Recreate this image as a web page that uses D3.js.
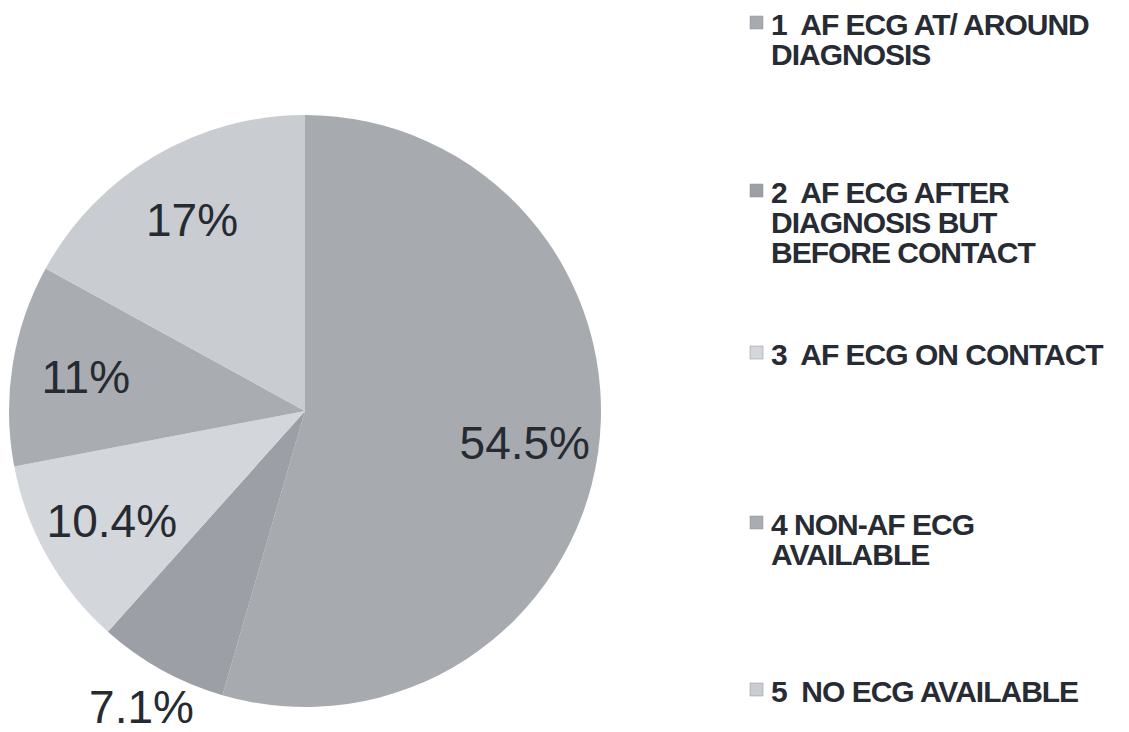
<!DOCTYPE html>
<html>
<head>
<meta charset="utf-8">
<script src="https://cdn.jsdelivr.net/npm/d3@7"></script>
<style>
  body { margin: 0; background: #fff; }
  svg { display: block; }
  .pct { font-family: "Liberation Sans", Arial, sans-serif; font-size: 46px; fill: #262a31; }
  .leg { font-family: "Liberation Sans", Arial, sans-serif; font-size: 30px; font-weight: bold; fill: #272b33; letter-spacing: -1px; white-space: pre; }
</style>
</head>
<body>
<div id="chart"></div>
<script>
/* ---- data ---- */
var categories = ["1", "2", "3", "4", "5"];
var values = [54.5, 7.1, 10.4, 11, 17];
var valueLabels = ["54.5%", "7.1%", "10.4%", "11%", "17%"];
var legendLines = [
	["1  AF ECG AT/ AROUND", "DIAGNOSIS"],
	["2  AF ECG AFTER", "DIAGNOSIS BUT", "BEFORE CONTACT"],
	["3  AF ECG ON CONTACT"],
	["4 NON-AF ECG", "AVAILABLE"],
	["5  NO ECG AVAILABLE"]
];
var sliceColors = ["#a7abb0", "#9c9fa5", "#d3d6da", "#a9acb1", "#c9ccd1"];

/* ---- layout ---- */
var width = 1129,
	height = 732,
	cx = 305,
	cy = 411,
	radius = 296;

var legendX = 750,
	legendTextX = 771,
	legendBaselines = [35, 203, 365, 535, 702],
	lineHeight = 30,
	swatch = 13;

var svg = d3.select("#chart").append("svg")
	.attr("width", width)
	.attr("height", height);

var pie = d3.pie()
	.sort(null)
	.value(function(d) { return d; });

var arcs = pie(values);

var arc = d3.arc().innerRadius(0).outerRadius(radius);
var labelArcIn = d3.arc().innerRadius(radius * 0.75).outerRadius(radius * 0.75);
var labelArcOut = d3.arc().innerRadius(radius * 1.14).outerRadius(radius * 1.14);

var g = svg.append("g").attr("transform", "translate(" + cx + "," + cy + ")");

g.selectAll(".slice")
	.data(arcs)
	.enter().append("path")
		.attr("class", "slice")
		.attr("d", arc)
		.attr("fill", function(d, i) { return sliceColors[i]; });

// small slices get their label outside the pie
g.selectAll(".pct")
	.data(arcs)
	.enter().append("text")
		.attr("class", "pct")
		.attr("text-anchor", "middle")
		.attr("dy", "0.36em")
		.attr("transform", function(d) {
			var c = (d.data < 8 ? labelArcOut : labelArcIn).centroid(d);
			return "translate(" + c[0] + "," + c[1] + ")";
		})
		.text(function(d, i) { return valueLabels[i]; });

// legend
var leg = svg.selectAll(".legend-item")
	.data(categories)
	.enter().append("g")
		.attr("class", "legend-item");

leg.append("rect")
	.attr("x", legendX)
	.attr("y", function(d, i) { return legendBaselines[i] - 19; })
	.attr("width", swatch)
	.attr("height", swatch)
	.attr("fill", function(d, i) { return sliceColors[i]; })
	.attr("stroke", "#8e9196")
	.attr("stroke-width", 0.5);

leg.each(function(d, i) {
	var t = d3.select(this).append("text")
		.attr("class", "leg")
		.attr("x", legendTextX)
		.attr("y", legendBaselines[i]);
	legendLines[i].forEach(function(line, j) {
		t.append("tspan")
			.attr("x", legendTextX)
			.attr("y", legendBaselines[i] + j * lineHeight)
			.text(line);
	});
});
</script>
</body>
</html>
